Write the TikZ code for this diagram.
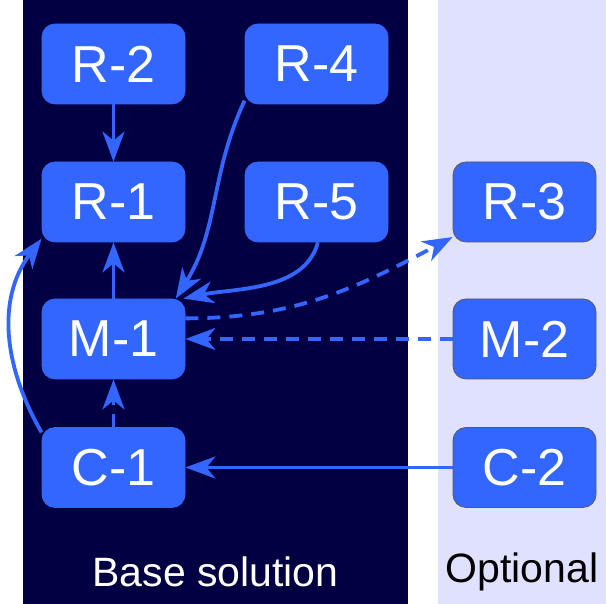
\documentclass[tikz,border=0pt]{standalone}
\usepackage{fontspec}
\setmainfont{Liberation Sans}
\usetikzlibrary{arrows.meta}

\definecolor{basebg}{RGB}{2,0,66}
\definecolor{optbg}{RGB}{224,224,255}
\definecolor{boxblue}{RGB}{51,102,255}

\begin{document}
\begin{tikzpicture}[x=1pt,y=1pt,
  box/.style={rectangle, rounded corners=13pt, fill=boxblue, draw=black!65, line width=0.8pt,
    minimum width=143pt, minimum height=80pt, inner sep=0pt, text=white,
    font=\fontsize{52}{60}\selectfont},
  link/.style={draw=boxblue, line width=3.8pt, -{Stealth[length=30pt,width=22pt,inset=9pt]}},
  optlink/.style={link, dash pattern=on 13pt off 9pt},
  panellabel/.style={font=\fontsize{41}{48}\selectfont}]
\useasboundingbox (0,0) rectangle (606,604);
% Draw panels
\fill[basebg] (23,0) rectangle (408,604);
\fill[optbg] (438,0) rectangle (606,604);
\node[panellabel, text=white] (baselabel) at (215.5,32) {Base solution};
\node[panellabel, text=black] (optlabel) at (522,32) {Optional};
% Draw boxes
\node[box, draw=boxblue] (r2) at (113.5,540) {R-2};
\node[box, draw=boxblue] (r4) at (316.5,540) {R-4};
\node[box, draw=boxblue] (r1) at (113.5,402) {R-1};
\node[box, draw=boxblue] (r5) at (316.5,402) {R-5};
\node[box] (r3) at (524.5,402) {R-3};
\node[box, draw=boxblue] (m1) at (113.5,265) {M-1};
\node[box] (m2) at (524.5,265) {M-2};
\node[box, draw=boxblue] (c1) at (113.5,136.5) {C-1};
\node[box] (c2) at (524.5,136.5) {C-2};
% Draw links
\draw[link] (r2.south) -- (r1.north);
\draw[link] (m1.north) -- (r1.south);
\draw[link] (r4.207) to[out=245, in=58] (m1.33);
\draw[link] (r5.272) to[out=255, in=12, looseness=0.9] (m1.30);
\draw[link] (c2.west) -- (c1.east);
\draw[link] (c1.154) to[out=120, in=233] (r1.207);
% Draw optional links
\draw[optlink] (m1.16) to[out=0, in=208] (r3.206);
\draw[optlink] (m2.west) -- (m1.east);
\draw[optlink] (c1.north) -- (m1.south);
\end{tikzpicture}
\end{document}
